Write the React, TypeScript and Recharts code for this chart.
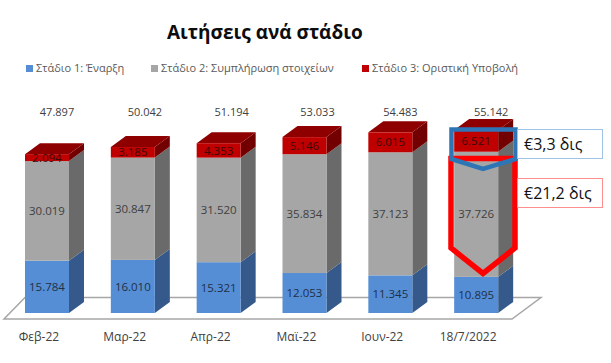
import React from 'react';
import { BarChart, Bar, XAxis, YAxis, LabelList, Legend } from 'recharts';

const categories = ['Φεβ-22', 'Μαρ-22', 'Απρ-22', 'Μαϊ-22', 'Ιουν-22', '18/7/2022'];
const stage1 = [15784, 16010, 15321, 12053, 11345, 10895];
const stage2 = [30019, 30847, 31520, 35834, 37123, 37726];
const stage3 = [2094, 3185, 4353, 5146, 6015, 6521];
const totals = [47897, 50042, 51194, 53033, 54483, 55142];
const totalLabelOffsets = [10, 12, 13, 13, 10, 15];
const seriesNames = ['Στάδιο 1: Έναρξη', 'Στάδιο 2: Συμπλήρωση στοιχείων', 'Στάδιο 3: Οριστική Υποβολή'];
const seriesColors = ['#558ed5', '#a6a6a6', '#c00000'];
const legendX = [26, 151, 362];

const data = categories.map((c, i) => ({ c, s1: stage1[i], s2: stage2[i], s3: stage3[i] }));
const fmt = (v: number) => String(v).replace(/(\d)(\d{3})$/, '$1.$2');
const FONT = '"Open Sans", "Noto Sans", sans-serif';
const DX = 15;
const DY = 11;

const box3d = (front: string, side: string, top?: string) => (p: any) => {
  const { x, y, width: w, height: h } = p;
  const r = x + w;
  const b = y + h;
  return (
    <g>
      <polygon points={`${r},${y} ${r + DX},${y - DY} ${r + DX},${b - DY} ${r},${b}`} fill={side} />
      {top && <polygon points={`${x},${y} ${x + DX},${y - DY} ${r + DX},${y - DY} ${r},${y}`} fill={top} />}
      <rect x={x} y={y} width={w} height={h} fill={front} />
    </g>
  );
};

const Tick = (p: any) => (
  <text x={p.x - 8} y={p.y + 15} textAnchor="middle" dominantBaseline="central" fontFamily={FONT} fontSize={12} fill="#404040">
    {p.payload.value}
  </text>
);

const TotalLabel = (p: any) => (
  <text x={p.x + p.width / 2 + totalLabelOffsets[p.index]} y={111} textAnchor="middle" dominantBaseline="central" fontFamily={FONT} fontSize={11} fill="#404040">
    {fmt(totals[p.index])}
  </text>
);

const LegendContent = () => (
  <div style={{ position: 'relative', width: 611, height: 20 }}>
    {seriesNames.map((n, i) => (
      <div key={n} style={{ position: 'absolute', left: legendX[i], top: 0, display: 'flex', alignItems: 'center', whiteSpace: 'nowrap', fontFamily: FONT, fontSize: 11, color: '#595959', lineHeight: '16px' }}>
        <span style={{ width: 7, height: 7, background: seriesColors[i], marginRight: 3, display: 'inline-block' }} />
        {n}
      </div>
    ))}
  </div>
);

export default function App() {
  const labelProps = { position: 'center' as const, formatter: fmt, fontFamily: FONT, fontSize: 11.5 };
  return (
    <div style={{ position: 'absolute', left: 0, top: 0, width: 611, height: 363, background: '#fff', overflow: 'hidden' }}>
      <svg width={611} height={363} style={{ position: 'absolute', left: 0, top: 0 }}>
        <polygon points="4,319 25,297.5 541,297.5 512,319" fill="#fff" stroke="#a6a6a6" strokeWidth={1.5} />
      </svg>
      <div style={{ position: 'absolute', left: 167, top: 18, fontFamily: FONT, fontWeight: 700, fontSize: 19, color: '#0d0d0d', whiteSpace: 'nowrap', lineHeight: '28px' }}>
        Αιτήσεις ανά στάδιο
      </div>
      <div style={{ position: 'absolute', left: 0, top: 0 }}>
        <BarChart width={611} height={363} data={data} margin={{ top: 94, right: 92, bottom: 20, left: 4 }} barSize={44}>
          <XAxis dataKey="c" axisLine={false} tickLine={false} tick={Tick} interval={0} height={30} />
          <YAxis hide domain={[0, 60000]} />
          <Legend content={LegendContent} verticalAlign="top" wrapperStyle={{ left: 0, top: 60, width: 611 }} />
          <Bar dataKey="s1" stackId="a" isAnimationActive={false} shape={box3d(seriesColors[0], '#35598a')}>
            <LabelList dataKey="s1" {...labelProps} fill="#1f3048" />
          </Bar>
          <Bar dataKey="s2" stackId="a" isAnimationActive={false} shape={box3d(seriesColors[1], '#6a6a6a')}>
            <LabelList dataKey="s2" {...labelProps} fill="#404040" />
          </Bar>
          <Bar dataKey="s3" stackId="a" isAnimationActive={false} shape={box3d(seriesColors[2], '#720000', '#8e0000')}>
            <LabelList dataKey="s3" {...labelProps} fill="#3a0a0a" />
            <LabelList dataKey="s3" content={TotalLabel} />
          </Bar>
        </BarChart>
      </div>
      <svg width={611} height={363} style={{ position: 'absolute', left: 0, top: 0 }}>
        <polygon points="451,158.5 515,158.5 515,248 483,273.5 451,248" fill="none" stroke="#fe0000" strokeWidth={5.5} />
        <polygon points="451.5,129.5 515.5,129.5 515.5,159 483,169 451.5,159" fill="none" stroke="#2e75b6" strokeWidth={4.5} />
        <rect x={517.5} y={129.5} width={85} height={29} fill="#fff" stroke="#9dc3e6" />
        <rect x={517.5} y={178.5} width={85} height={29} fill="#fff" stroke="#ff8f8f" />
        <text x={524} y={144} dominantBaseline="central" fontFamily={FONT} fontSize={16} fill="#111">€3,3 δις</text>
        <text x={524} y={193} dominantBaseline="central" fontFamily={FONT} fontSize={16} fill="#111">€21,2 δις</text>
      </svg>
    </div>
  );
}
